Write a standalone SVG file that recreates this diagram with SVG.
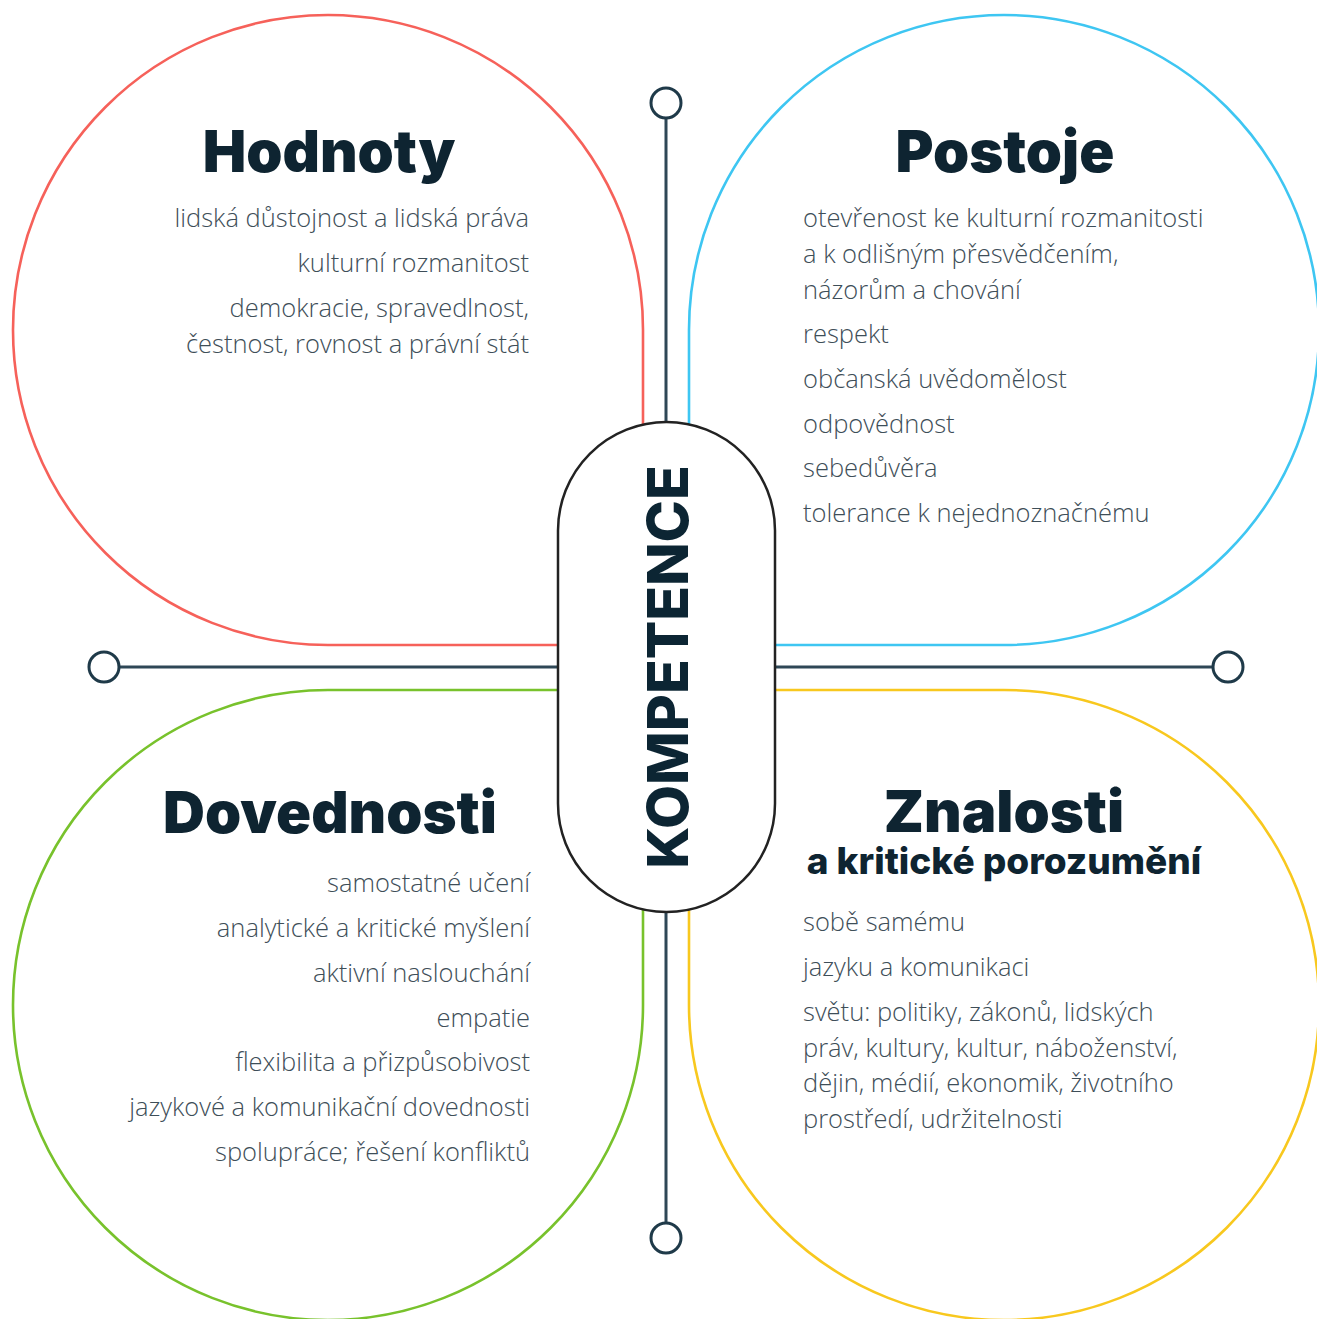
<svg xmlns="http://www.w3.org/2000/svg" width="1317" height="1319" viewBox="0 0 1317 1319">
<style>
.petal{fill:#fff;stroke-width:2.6}
.red{stroke:#f6615a}.blue{stroke:#3ec6f2}.green{stroke:#78c22c}.yellow{stroke:#f8c81e}
.title{font-family:Inter,"Open Sans",sans-serif;font-weight:900;fill:#0e2431;text-anchor:middle}
.sub{font-family:Inter,"Open Sans",sans-serif;font-weight:800;fill:#0e2431;text-anchor:middle;font-size:37px}
.item{font-family:"Open Sans","Liberation Sans",sans-serif;font-weight:300;fill:#3e4e58;font-size:25.5px}
.r{text-anchor:end}
.conn{stroke:#2e4756;stroke-width:3;fill:none}
.dot{fill:#fff;stroke:#1f3a49;stroke-width:3}
.pill{fill:#fff;stroke:#222;stroke-width:2.5}
.kt{font-family:Inter,"Open Sans",sans-serif;font-weight:800;fill:#0c2533;font-size:57px;text-anchor:middle}
</style>
<g id="connectors">
<line class="conn" x1="666" y1="118" x2="666" y2="1223"/>
<line class="conn" x1="119" y1="667" x2="1213" y2="667"/>
<circle class="dot" cx="666" cy="103" r="15"/>
<circle class="dot" cx="666" cy="1238" r="15"/>
<circle class="dot" cx="104" cy="667" r="15"/>
<circle class="dot" cx="1228" cy="667" r="15"/>
</g>
<g id="hodnoty">
<path class="petal red" d="M643,330 A315,315 0 1 0 328,645 L643,645 Z"/>
<text class="title" x="329" y="172" font-size="58">Hodnoty</text>
<text class="item r" x="529" y="227">lidská důstojnost a lidská práva</text>
<text class="item r" x="529" y="272">kulturní rozmanitost</text>
<text class="item r" x="529" y="317">demokracie, spravedlnost,</text>
<text class="item r" x="529" y="353">čestnost, rovnost a právní stát</text>
</g>
<g id="postoje">
<path class="petal blue" d="M689,645 L689,330 A315,315 0 1 1 1004,645 Z"/>
<text class="title" x="1005" y="172" font-size="58">Postoje</text>
<text class="item" x="803" y="227">otevřenost ke kulturní rozmanitosti</text>
<text class="item" x="803" y="263">a k odlišným přesvědčením,</text>
<text class="item" x="803" y="299">názorům a chování</text>
<text class="item" x="803" y="343">respekt</text>
<text class="item" x="803" y="388">občanská uvědomělost</text>
<text class="item" x="803" y="433">odpovědnost</text>
<text class="item" x="803" y="477">sebedůvěra</text>
<text class="item" x="803" y="522">tolerance k nejednoznačnému</text>
</g>
<g id="dovednosti">
<path class="petal green" d="M643,690 L643,1005 A315,315 0 1 1 328,690 Z"/>
<text class="title" x="330" y="833" font-size="58">Dovednosti</text>
<text class="item r" x="530" y="892">samostatné učení</text>
<text class="item r" x="530" y="937">analytické a kritické myšlení</text>
<text class="item r" x="530" y="982">aktivní naslouchání</text>
<text class="item r" x="530" y="1027">empatie</text>
<text class="item r" x="530" y="1071">flexibilita a přizpůsobivost</text>
<text class="item r" x="530" y="1116">jazykové a komunikační dovednosti</text>
<text class="item r" x="530" y="1161">spolupráce; řešení konfliktů</text>
</g>
<g id="znalosti">
<path class="petal yellow" d="M689,690 L1004,690 A315,315 0 1 1 689,1005 Z"/>
<text class="title" x="1004" y="832" font-size="58">Znalosti</text>
<text class="sub" x="1004" y="874">a kritické porozumění</text>
<text class="item" x="803" y="931">sobě samému</text>
<text class="item" x="803" y="976">jazyku a komunikaci</text>
<text class="item" x="803" y="1021">světu: politiky, zákonů, lidských</text>
<text class="item" x="803" y="1057">práv, kultury, kultur, náboženství,</text>
<text class="item" x="803" y="1092">dějin, médií, ekonomik, životního</text>
<text class="item" x="803" y="1128">prostředí, udržitelnosti</text>
</g>
<g id="kompetence">
<rect class="pill" x="558" y="422" width="217" height="490" rx="108.5" ry="108.5"/>
<text class="kt" transform="translate(688,667) rotate(-90)">KOMPETENCE</text>
</g>
</svg>
